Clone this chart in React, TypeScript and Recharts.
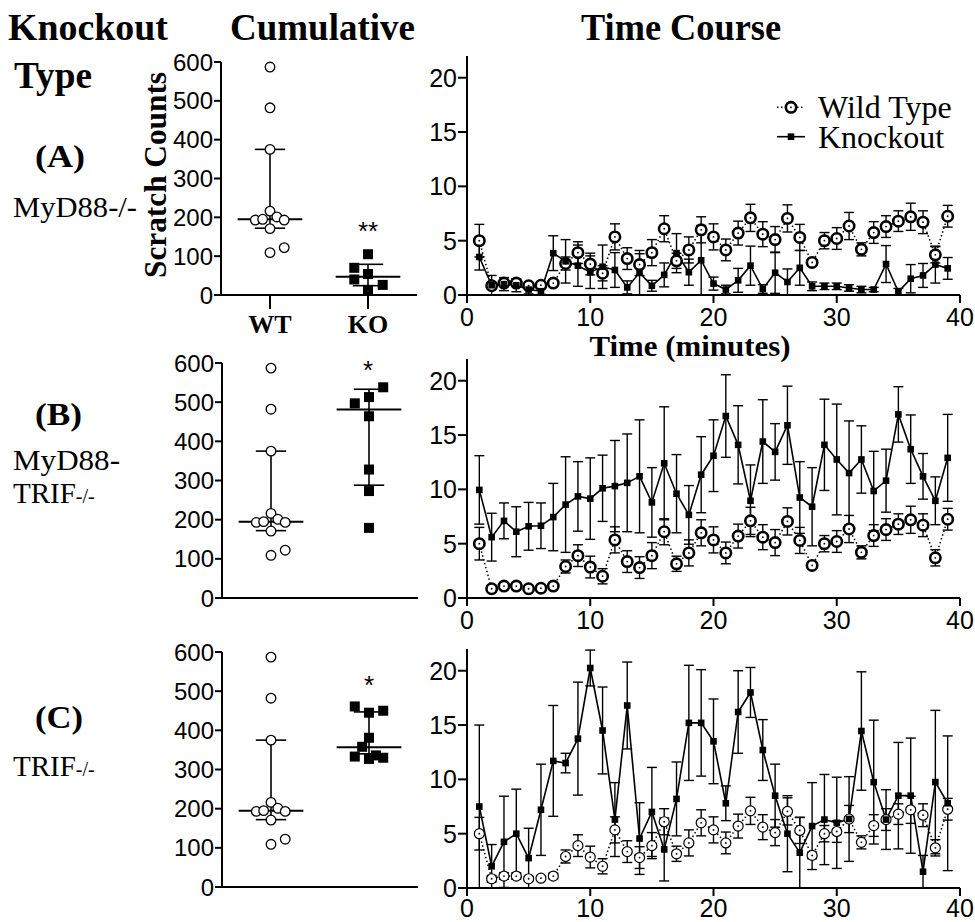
import React from "react";
import {
  ErrorBar,
  Legend,
  Line,
  LineChart,
  ReferenceLine,
  Scatter,
  ScatterChart,
  XAxis,
  YAxis,
} from "recharts";

const serif = "'Liberation Serif', 'Times New Roman', serif";
const sans = "'Liberation Sans', Arial, sans-serif";

// time course (scratches per minute)
const minutes = [
  1, 2, 3, 4, 5, 6, 7, 8, 9, 10, 11, 12, 13, 14, 15, 16, 17, 18, 19, 20,
  21, 22, 23, 24, 25, 26, 27, 28, 29, 30, 31, 32, 33, 34, 35, 36, 37, 38, 39,
];
const wtMean = [
  5.0, 0.85, 1.1, 1.1, 0.85, 0.9, 1.1, 2.9, 3.9, 2.85, 2.0, 5.35, 3.35, 2.8,
  3.9, 6.1, 3.15, 4.15, 6.0, 5.35, 4.15, 5.7, 7.1, 5.6, 5.1, 7.05, 5.3, 3.0,
  5.0, 5.2, 6.35, 4.2, 5.75, 6.3, 6.8, 7.2, 6.7, 3.7, 7.25,
];
const wtSem = [
  1.5, 0.3, 0.3, 0.3, 0.2, 0.2, 0.25, 0.6, 1.0, 1.0, 0.7, 1.2, 1.0, 1.0, 1.2,
  1.2, 0.7, 1.2, 1.2, 1.2, 1.0, 1.1, 1.25, 1.15, 1.2, 1.25, 1.2, 0.3, 0.75,
  1.0, 1.25, 0.6, 1.0, 1.0, 0.95, 1.25, 1.05, 0.75, 1.0,
];
const koMeanA = [
  3.5, 0.9, 1.0, 0.9, 0.5, 0.35, 3.85, 3.1, 2.7, 2.1, 2.6, 2.3, 0.7, 2.05,
  0.85, 1.85, 3.85, 2.1, 3.2, 1.05, 0.5, 1.35, 2.7, 0.55, 2.05, 1.2, 2.5, 0.8,
  0.8, 0.8, 0.65, 0.5, 0.5, 2.85, 0.3, 1.5, 1.8, 2.8, 2.45,
];
const koSemA = [
  1.2, 0.9, 0.6, 0.6, 0.4, 0.3, 1.6, 2.0, 1.9, 1.5, 2.0, 1.6, 0.6, 2.05, 0.5,
  1.1, 1.8, 1.2, 3.2, 0.6, 0.4, 1.1, 1.8, 0.4, 1.9, 1.2, 1.6, 0.4, 0.3, 0.3,
  0.3, 0.3, 0.2, 1.7, 0.3, 1.3, 1.1, 1.7, 1.0,
];
const koMeanB = [
  9.95, 5.6, 7.1, 6.1, 6.6, 6.65, 7.45, 8.6, 9.35, 9.15, 10.1, 10.3, 10.6,
  11.2, 8.8, 12.4, 9.6, 7.65, 11.35, 13.1, 16.75, 14.1, 8.95, 14.4, 13.45,
  15.9, 9.25, 8.4, 14.1, 12.75, 11.5, 12.75, 9.85, 10.8, 16.9, 13.7, 11.2,
  8.95, 12.9,
];
const koSemB = [
  3.15, 2.2, 1.65, 2.3, 2.2, 2.1, 3.1, 4.4, 3.2, 3.75, 3.05, 4.2, 4.5, 5.2,
  3.2, 5.2, 3.6, 2.7, 3.5, 3.3, 3.8, 3.6, 3.3, 3.85, 2.6, 3.6, 3.3, 3.6, 4.2,
  5.1, 4.8, 3.1, 3.65, 2.9, 2.55, 3.15, 2.1, 2.2, 4.0,
];
const koMeanC = [
  7.5, 2.0, 4.25, 5.0, 2.75, 7.2, 11.7, 11.5, 13.75, 20.25, 14.5, 6.3, 16.8,
  4.55, 7.0, 3.55, 8.2, 15.2, 15.2, 13.5, 7.8, 16.2, 18.0, 12.7, 8.5, 5.0,
  3.25, 5.7, 6.3, 6.0, 6.35, 14.45, 9.75, 6.3, 8.5, 8.5, 1.5, 9.75, 7.8,
];
const koSemC = [
  7.5, 2.0, 4.2, 4.1, 2.75, 4.2, 5.1, 0.9, 5.2, 1.65, 4.0, 3.4, 4.0, 3.3, 4.1,
  2.9, 3.4, 5.3, 4.9, 3.9, 1.6, 3.8, 2.3, 2.8, 2.9, 3.5, 3.25, 4.0, 4.15, 4.2,
  3.9, 5.45, 5.7, 2.75, 4.9, 5.3, 1.5, 6.6, 6.2,
];
const timeTicks = [0, 10, 20, 30, 40];
const rateTicks = [0, 5, 10, 15, 20];
const legendNames = ["Wild Type", "Knockout"];

// cumulative scratch counts (x = group position incl. jitter, 1 = WT, 2 = KO)
const wtCounts = [587, 482, 375, 216, 193, 195, 201, 193, 171, 109, 122];
const wtX = [1, 1, 1, 1, 0.85, 0.925, 1.07, 1.145, 1, 1, 1.145];
const koCountsA = [105, 70, 54, 40, 26, 13];
const koXA = [2, 1.86, 2, 1.86, 2.15, 2];
const koCountsB = [538, 497, 513, 464, 328, 273, 179];
const koXB = [2.145, 1.855, 2, 2, 2, 2, 2];
const koCountsC = [461, 445, 450, 381, 358, 333, 327, 336, 330];
const koXC = [1.855, 2, 2.145, 2, 1.93, 1.855, 2, 2.07, 2.145];
// q1, median, q3
const wtSummary = [172, 195, 375];
const koSummaryA = [24, 47, 79];
const koSummaryB = [288, 481, 533];
const koSummaryC = [340, 357, 447];
const groupNames = ["WT", "KO"];
const countTicks = [0, 100, 200, 300, 400, 500, 600];

const axisStyle = { stroke: "#000", strokeWidth: 2 };

const rowsFor = (ko: number[], koErr: number[]) =>
  minutes.map((t, i) => ({ t, wt: wtMean[i], wtErr: wtSem[i], ko: ko[i], koErr: koErr[i] }));

const pointsFor = (ys: number[], xs: number[]) => ys.map((y, i) => ({ x: xs[i], y }));

const openCircle = (r: number, sw: number) => (props: any) => {
  const { cx, cy, index } = props;
  if (cx == null || cy == null) return <g key={`e-${index}`} />;
  return (
    <g key={`c-${index}`}>
      <circle cx={cx} cy={cy} r={r} fill="#fff" stroke="#000" strokeWidth={sw} />
      <circle cx={cx} cy={cy} r={0.9} fill="#000" />
    </g>
  );
};

const smallSquare = (props: any) => {
  const { cx, cy, index } = props;
  if (cx == null || cy == null) return <g key={`e-${index}`} />;
  return <rect key={`s-${index}`} x={cx - 3.3} y={cy - 3.3} width={6.6} height={6.6} fill="#000" />;
};

// legend rows always follow legendNames order (wild type first)
const LegendBox = () => (
  <svg width={190} height={90} style={{ display: "block" }}>
    {legendNames.map((name, i) => {
      const y = 27.3 + i * 29.4;
      return (
        <g key={name}>
          {i === 0 ? (
            <>
              <line x1={2} x2={28} y1={y} y2={y} stroke="#000" strokeWidth={1.5} strokeDasharray="1.5 2.5" />
              <circle cx={16} cy={y} r={5.2} fill="#fff" stroke="#000" strokeWidth={2.6} />
              <circle cx={16} cy={y} r={0.9} fill="#000" />
            </>
          ) : (
            <>
              <line x1={2} x2={30} y1={y} y2={y} stroke="#000" strokeWidth={1.6} />
              <rect x={12.7} y={y - 3.3} width={6.6} height={6.6} fill="#000" />
            </>
          )}
          <text x={43} y={y + 11} fontFamily={serif} fontSize={32} fill="#000">
            {name}
          </text>
        </g>
      );
    })}
  </svg>
);

interface TimeProps {
  data: ReturnType<typeof rowsFor>;
  top: number;
  marginTop: number;
  height: number;
  xHeight: number;
  xMargin: number;
  heavy: boolean;
  legend?: boolean;
}

function TimeCourse({ data, top, marginTop, height, xHeight, xMargin, heavy, legend }: TimeProps) {
  const r = heavy ? 5.2 : 5;
  const sw = heavy ? 2.6 : 1.2;
  return (
    <div style={{ position: "absolute", left: 390, top }}>
      <LineChart width={585} height={height} data={data} margin={{ top: marginTop, right: 15, bottom: 0, left: 0 }}>
        <XAxis
          dataKey="t"
          type="number"
          domain={[0, 40]}
          ticks={timeTicks}
          interval={0}
          height={xHeight}
          tickSize={8}
          tickMargin={xMargin}
          axisLine={axisStyle}
          tickLine={axisStyle}
          tick={{ fill: "#000", fontSize: 25, fontFamily: sans }}
        />
        <YAxis
          type="number"
          domain={[0, 22]}
          ticks={rateTicks}
          interval={0}
          width={77}
          tickSize={9}
          tickMargin={1}
          axisLine={axisStyle}
          tickLine={axisStyle}
          tick={{ fill: "#000", fontSize: 25, fontFamily: sans }}
        />
        <Line
          dataKey="wt"
          name={legendNames[0]}
          stroke="#000"
          strokeWidth={1.5}
          strokeDasharray="1.5 2.5"
          dot={openCircle(r, sw)}
          activeDot={false}
          isAnimationActive={false}
        >
          <ErrorBar dataKey="wtErr" direction="y" width={5} stroke="#000" strokeWidth={1.4} />
        </Line>
        <Line
          dataKey="ko"
          name={legendNames[1]}
          stroke="#000"
          strokeWidth={1.6}
          dot={smallSquare}
          activeDot={false}
          isAnimationActive={false}
        >
          <ErrorBar dataKey="koErr" direction="y" width={5} stroke="#000" strokeWidth={1.4} />
        </Line>
        {legend && (
          <Legend
            layout="vertical"
            align="center"
            verticalAlign="middle"
            wrapperStyle={{ left: 385, top: 40, width: 190 }}
            content={LegendBox}
          />
        )}
      </LineChart>
    </div>
  );
}

const summaryLines = (s: number[], x: number, key: string) => [
  <ReferenceLine key={`${key}-v`} segment={[{ x, y: s[0] }, { x, y: s[2] }]} stroke="#000" strokeWidth={1.6} />,
  <ReferenceLine key={`${key}-m`} segment={[{ x: x - 0.33, y: s[1] }, { x: x + 0.33, y: s[1] }]} stroke="#000" strokeWidth={2} />,
  <ReferenceLine key={`${key}-lo`} segment={[{ x: x - 0.155, y: s[0] }, { x: x + 0.155, y: s[0] }]} stroke="#000" strokeWidth={1.6} />,
  <ReferenceLine key={`${key}-hi`} segment={[{ x: x - 0.155, y: s[2] }, { x: x + 0.155, y: s[2] }]} stroke="#000" strokeWidth={1.6} />,
];

interface CumProps {
  top: number;
  marginTop: number;
  yWidth: number;
  height: number;
  xHeight: number;
  ko: { x: number; y: number }[];
  koSummary: number[];
  labels?: boolean;
}

function Cumulative({ top, marginTop, yWidth, height, xHeight, ko, koSummary, labels }: CumProps) {
  return (
    <div style={{ position: "absolute", left: 150, top }}>
      <ScatterChart width={yWidth + 196} height={height} margin={{ top: marginTop, right: 0, bottom: 0, left: 0 }}>
        <XAxis
          type="number"
          dataKey="x"
          domain={[0.5, 2.5]}
          ticks={[1, 2]}
          interval={0}
          height={xHeight}
          axisLine={axisStyle}
          tickLine={labels ? axisStyle : false}
          tickSize={14}
          tickMargin={6}
          tick={labels ? { fill: "#000", fontSize: 26, fontFamily: serif, fontWeight: 700 } : false}
          tickFormatter={(v) => groupNames[v - 1]}
        />
        <YAxis
          type="number"
          dataKey="y"
          domain={[0, 600]}
          ticks={countTicks}
          interval={0}
          width={yWidth}
          tickSize={7}
          tickMargin={1}
          axisLine={axisStyle}
          tickLine={axisStyle}
          tick={{ fill: "#000", fontSize: 24, fontFamily: sans }}
        />
        <Scatter
          data={pointsFor(wtCounts, wtX)}
          isAnimationActive={false}
          shape={(p: any) => <circle cx={p.cx} cy={p.cy} r={4.8} fill="#fff" stroke="#000" strokeWidth={1.3} />}
        />
        <Scatter
          data={ko}
          isAnimationActive={false}
          shape={(p: any) => <rect x={p.cx - 5} y={p.cy - 5} width={10} height={10} fill="#000" />}
        />
        {summaryLines(wtSummary, 1, "wt")}
        {summaryLines(koSummary, 2, "ko")}
      </ScatterChart>
    </div>
  );
}

function Labels() {
  const bold = { fontFamily: serif, fontWeight: 700, fill: "#000" } as const;
  const reg = { fontFamily: serif, fill: "#000" } as const;
  const fit = "spacingAndGlyphs";
  return (
    <svg width={975} height={922} style={{ position: "absolute", left: 0, top: 0 }}>
      <text x={8} y={40} fontSize={37} textLength={160} lengthAdjust={fit} {...bold}>Knockout</text>
      <text x={14} y={88} fontSize={37} textLength={78} lengthAdjust={fit} {...bold}>Type</text>
      <text x={230} y={40} fontSize={37} textLength={185} lengthAdjust={fit} {...bold}>Cumulative</text>
      <text x={581} y={40} fontSize={37} textLength={200} lengthAdjust={fit} {...bold}>Time Course</text>

      <text x={35} y={167} fontSize={32} textLength={50} lengthAdjust={fit} {...bold}>(A)</text>
      <text x={13} y={217} fontSize={29} textLength={124} lengthAdjust={fit} {...reg}>MyD88-/-</text>

      <text x={35} y={425} fontSize={32} textLength={47} lengthAdjust={fit} {...bold}>(B)</text>
      <text x={13} y={470} fontSize={29} textLength={107} lengthAdjust={fit} {...reg}>MyD88-</text>
      <text x={13} y={503} fontSize={29} {...reg}>
        TRIF<tspan fontSize={20}>-/-</tspan>
      </text>

      <text x={35} y={728} fontSize={32} textLength={48} lengthAdjust={fit} {...bold}>(C)</text>
      <text x={13} y={776} fontSize={29} {...reg}>
        TRIF<tspan fontSize={20}>-/-</tspan>
      </text>

      <text
        x={0}
        y={0}
        transform="translate(166 175) rotate(-90)"
        textAnchor="middle"
        fontSize={31}
        textLength={206}
        lengthAdjust={fit}
        {...bold}
      >
        Scratch Counts
      </text>
      <text x={690} y={356} textAnchor="middle" fontSize={29} textLength={201} lengthAdjust={fit} {...bold}>
        Time (minutes)
      </text>

      <text x={368} y={240} textAnchor="middle" fontSize={26} fontFamily={sans} fill="#000">**</text>
      <text x={368} y={379} textAnchor="middle" fontSize={26} fontFamily={sans} fill="#000">*</text>
      <text x={369} y={694} textAnchor="middle" fontSize={26} fontFamily={sans} fill="#000">*</text>
    </svg>
  );
}

export default function App() {
  return (
    <div style={{ position: "absolute", left: 0, top: 0, width: 975, height: 922, background: "#fff" }}>
      <Labels />
      <Cumulative top={50} marginTop={12} yWidth={71} height={295} xHeight={50} ko={pointsFor(koCountsA, koXA)} koSummary={koSummaryA} labels />
      <Cumulative top={350} marginTop={13} yWidth={72} height={262} xHeight={14} ko={pointsFor(koCountsB, koXB)} koSummary={koSummaryB} />
      <Cumulative top={640} marginTop={12} yWidth={72} height={261} xHeight={14} ko={pointsFor(koCountsC, koXC)} koSummary={koSummaryC} />
      <TimeCourse data={rowsFor(koMeanA, koSemA)} top={40} marginTop={16} height={300} xHeight={45} xMargin={5} heavy legend />
      <TimeCourse data={rowsFor(koMeanB, koSemB)} top={340} marginTop={19} height={303} xHeight={45} xMargin={5} heavy />
      <TimeCourse data={rowsFor(koMeanC, koSemC)} top={630} marginTop={19} height={292} xHeight={34} xMargin={3} heavy={false} />
    </div>
  );
}
